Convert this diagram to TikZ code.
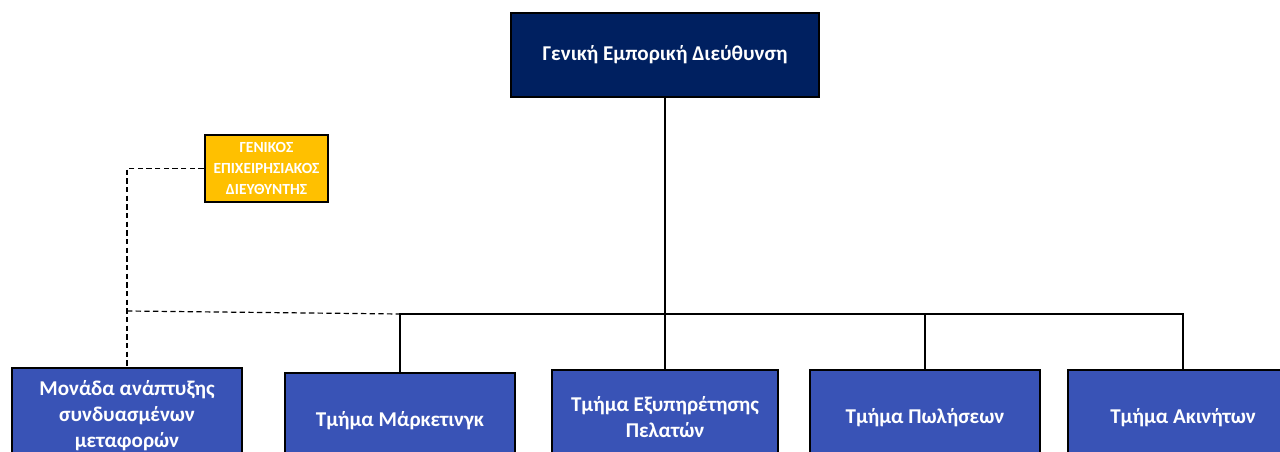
\documentclass[tikz,border=0pt]{standalone}
\usepackage{fontspec}
\setmainfont{Carlito}
\definecolor{navy}{RGB}{0,32,96}
\definecolor{unitblue}{RGB}{57,83,182}
\definecolor{gold}{RGB}{255,192,0}
\begin{document}
\begin{tikzpicture}[x=0.75pt,y=-0.75pt,
  box/.style={draw=black,line width=1.8pt,inner sep=0pt,align=center,text=white,font=\bfseries\fontsize{15.8}{19.5}\selectfont},
  topbox/.style={box,fill=navy,minimum width=231pt,minimum height=63pt},
  unitbox/.style={box,fill=unitblue,minimum width=172.5pt,minimum height=70.5pt,anchor=north},
  goldbox/.style={box,fill=gold,minimum width=92.25pt,minimum height=50.25pt,font=\bfseries\fontsize{11.6}{15.5}\selectfont},
  link/.style={draw=black,line width=0.9pt},
  dlink/.style={draw=black,line width=0.9pt,dash pattern=on 4pt off 2.5pt}]
\useasboundingbox (0,0) rectangle (1280,452);
\clip (0,0) rectangle (1280,452);
\node[topbox] (top) at (665,55) {Γενική Εμπορική Διεύθυνση};
\node[goldbox] (gm) at (266.5,168.5) {ΓΕΝΙΚΟΣ\\ΕΠΙΧΕΙΡΗΣΙΑΚΟΣ\\ΔΙΕΥΘΥΝΤΗΣ};
\node[unitbox] (u1) at (127,367) {Μονάδα ανάπτυξης\\συνδυασμένων\\μεταφορών};
\node[unitbox] (u2) at (400,372) {Τμήμα Μάρκετινγκ};
\node[unitbox,minimum width=169.5pt] (u3) at (665,369) {Τμήμα Εξυπηρέτησης\\Πελατών};
\node[unitbox] (u4) at (925,369) {Τμήμα Πωλήσεων};
\node[unitbox] (u5) at (1183,369) {Τμήμα Ακινήτων};
\coordinate (bus) at (665,314);
\coordinate (dbus) at (127,311);
\draw[link] (top.south) -- (u3.north);
\draw[link] (u2.north) |- (bus) -| (u5.north);
\draw[link] (u4.north) -- (u4.north |- bus);
\draw[dlink] (gm.west) -| (u1.north);
\draw[dlink] (dbus) -- (u2.north |- bus);
\end{tikzpicture}
\end{document}
